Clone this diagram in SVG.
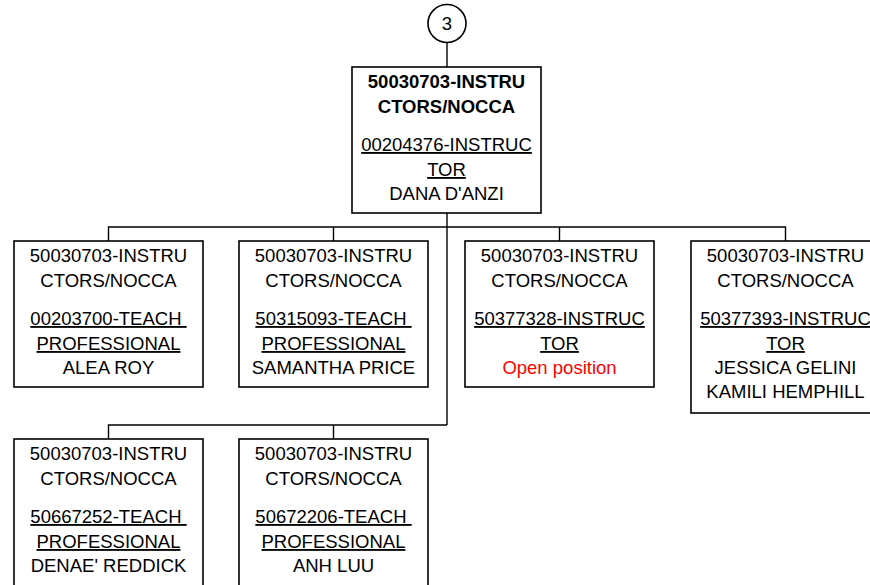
<svg xmlns="http://www.w3.org/2000/svg" width="870" height="585" viewBox="0 0 870 585">
<style>
.box{fill:#fff;stroke:#000;stroke-width:1.6}
.t{font-family:"Liberation Sans",Arial,sans-serif;font-size:18.5px;text-anchor:middle;fill:#000}
.b{font-weight:bold}
.u{text-decoration:underline}
.red{fill:#ff0000}
.c{fill:none;stroke:#000;stroke-width:1.4}
</style>
<rect width="870" height="585" fill="#fff"/>
<g id="connectors">
<line class="c" x1="447" y1="43" x2="447" y2="67"/>
<line class="c" x1="447" y1="213" x2="447" y2="425"/>
<polyline class="c" points="108.5,241 108.5,227 785.5,227 785.5,241"/>
<line class="c" x1="333.5" y1="227" x2="333.5" y2="241"/>
<line class="c" x1="559.5" y1="227" x2="559.5" y2="241"/>
<polyline class="c" points="108.5,439 108.5,425 447,425"/>
<line class="c" x1="333.5" y1="425" x2="333.5" y2="439"/>
</g>
<g id="connector-3">
<circle class="box" cx="447" cy="23.5" r="19"/>
<text class="t" x="447" y="30">3</text>
</g>
<g id="top">
<rect class="box" x="352" y="67" width="189" height="146"/>
<text class="t b" x="446.5" y="88">50030703-INSTRU</text>
<text class="t b" x="446.5" y="113">CTORS/NOCCA</text>
<text class="t u" x="446.5" y="151">00204376-INSTRUC</text>
<text class="t u" x="446.5" y="176">TOR</text>
<text class="t" x="446.5" y="200">DANA D'ANZI</text>
</g>
<g id="n1">
<rect class="box" x="14" y="241" width="189" height="146"/>
<text class="t" x="108.5" y="262">50030703-INSTRU</text>
<text class="t" x="108.5" y="287">CTORS/NOCCA</text>
<text class="t u" x="108.5" y="325" xml:space="preserve">00203700-TEACH </text>
<text class="t u" x="108.5" y="350">PROFESSIONAL</text>
<text class="t" x="108.5" y="374">ALEA ROY</text>
</g>
<g id="n2">
<rect class="box" x="239" y="241" width="189" height="146"/>
<text class="t" x="333.5" y="262">50030703-INSTRU</text>
<text class="t" x="333.5" y="287">CTORS/NOCCA</text>
<text class="t u" x="333.5" y="325" xml:space="preserve">50315093-TEACH </text>
<text class="t u" x="333.5" y="350">PROFESSIONAL</text>
<text class="t" x="333.5" y="374">SAMANTHA PRICE</text>
</g>
<g id="n3">
<rect class="box" x="465" y="241" width="189" height="146"/>
<text class="t" x="559.5" y="262">50030703-INSTRU</text>
<text class="t" x="559.5" y="287">CTORS/NOCCA</text>
<text class="t u" x="559.5" y="325">50377328-INSTRUC</text>
<text class="t u" x="559.5" y="350">TOR</text>
<text class="t red" x="559.5" y="374">Open position</text>
</g>
<g id="n4">
<rect class="box" x="691" y="241" width="189" height="172"/>
<text class="t" x="785.5" y="262">50030703-INSTRU</text>
<text class="t" x="785.5" y="287">CTORS/NOCCA</text>
<text class="t u" x="785.5" y="325">50377393-INSTRUC</text>
<text class="t u" x="785.5" y="350">TOR</text>
<text class="t" x="785.5" y="374">JESSICA GELINI</text>
<text class="t" x="785.5" y="398">KAMILI HEMPHILL</text>
</g>
<g id="n5">
<rect class="box" x="14" y="439" width="189" height="160"/>
<text class="t" x="108.5" y="460">50030703-INSTRU</text>
<text class="t" x="108.5" y="485">CTORS/NOCCA</text>
<text class="t u" x="108.5" y="523" xml:space="preserve">50667252-TEACH </text>
<text class="t u" x="108.5" y="548">PROFESSIONAL</text>
<text class="t" x="108.5" y="572">DENAE' REDDICK</text>
</g>
<g id="n6">
<rect class="box" x="239" y="439" width="189" height="160"/>
<text class="t" x="333.5" y="460">50030703-INSTRU</text>
<text class="t" x="333.5" y="485">CTORS/NOCCA</text>
<text class="t u" x="333.5" y="523" xml:space="preserve">50672206-TEACH </text>
<text class="t u" x="333.5" y="548">PROFESSIONAL</text>
<text class="t" x="333.5" y="572">ANH LUU</text>
</g>
</svg>
